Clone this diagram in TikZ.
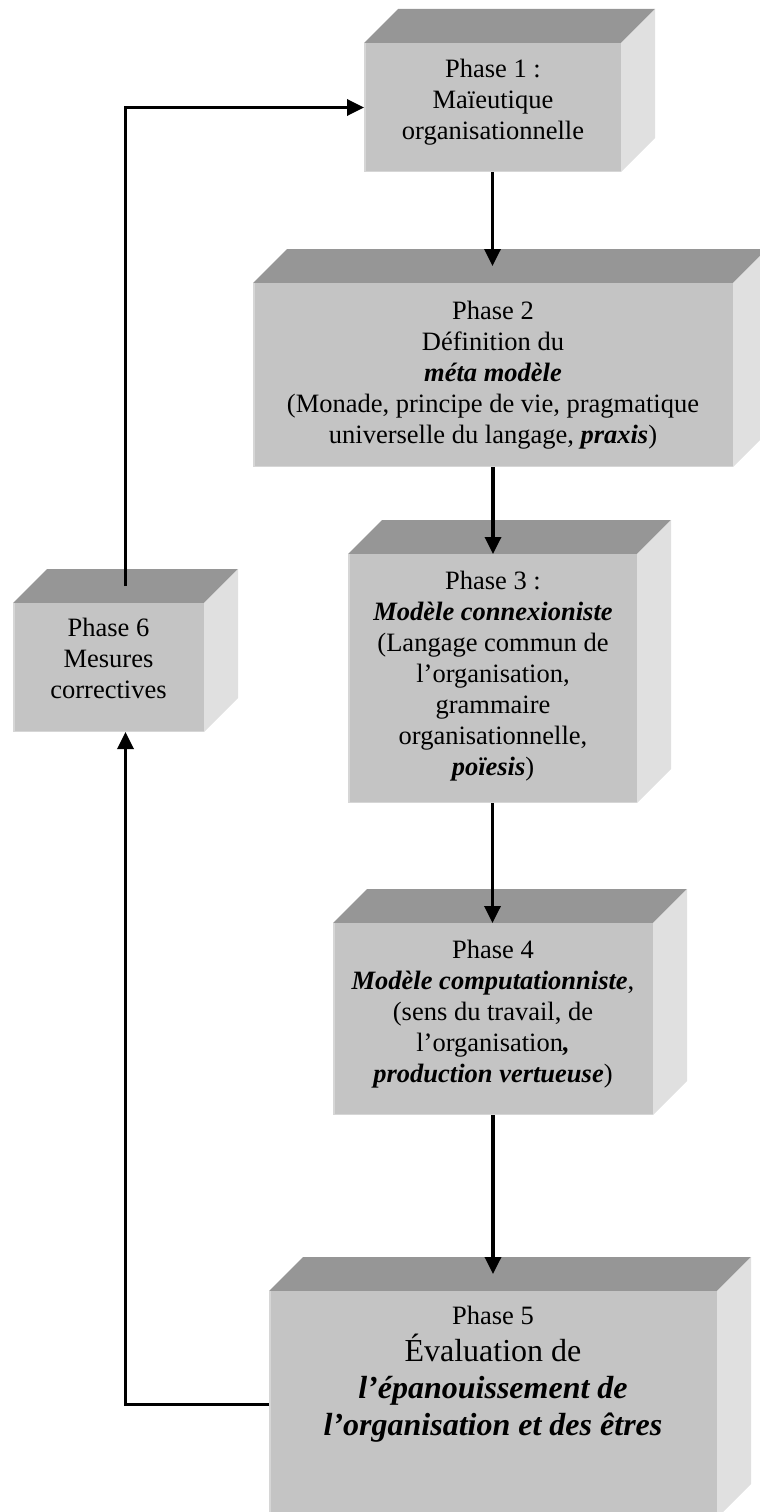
\documentclass[tikz,border=0pt]{standalone}
\usepackage{fontspec}
\setmainfont{Liberation Serif}
\usetikzlibrary{arrows.meta}

\definecolor{facetop}{RGB}{150,150,150}
\definecolor{facefront}{RGB}{196,196,196}
\definecolor{faceside}{RGB}{224,224,224}
\definecolor{faceedge}{RGB}{214,214,214}

\newcommand\bi[1]{\textbf{\textit{#1}}}

% 3D block: name, x1, y1, x2, y2 (front face corners); depth 34
\newcommand\phasebox[5]{%
  \fill[facetop] (#2,#3) -- ({#2+34},{#3-34}) -- ({#4+34},{#3-34}) -- (#4,#3) -- cycle;
  \fill[faceside] (#4,#3) -- ({#4+34},{#3-34}) -- ({#4+34},{#5-34}) -- (#4,#5) -- cycle;
  \node[frontface, minimum width={(#4-#2)*1pt}, minimum height={(#5-#3)*1pt}]
    (#1) at ({(#2+#4)/2},{(#3+#5)/2}) {};
  \draw[faceedge, line width=1.5pt] ([xshift=0.75pt]#1.north west) -- ([xshift=0.75pt,yshift=0.75pt]#1.south west) -- ([yshift=0.75pt]#1.south east);
  \coordinate (#1-top) at ({(#2+#4)/2+17},{#3-17});
}

% text blocks are placed by the baseline of their last line
\tikzset{
  frontface/.style={fill=facefront, draw=none, inner sep=0pt, outer sep=0pt},
  lbl/.style={align=center, anchor=base, inner sep=0pt, font=\fontsize{26.5}{31}\selectfont},
  biglbl/.style={align=center, anchor=base, inner sep=0pt, font=\fontsize{32}{37}\selectfont},
  flow/.style={line width=3.4pt, -{Triangle[length=17pt,width=16pt]}},
}

\begin{document}
\begin{tikzpicture}[x=1pt,y=-1pt]
\useasboundingbox (0,0) rectangle (760,1512);

\phasebox{b1}{364}{43}{621}{172}
\phasebox{b2}{253}{283}{733}{467}
\phasebox{b3}{348}{554}{637}{803}
\phasebox{b4}{333}{923}{653}{1115}
\phasebox{b5}{269}{1291}{717}{1518}
\phasebox{b6}{13}{603}{204}{732}

\draw[flow] (b1.south) -- (b1.south |- b2-top);
\draw[flow] (b2.south) -- (b2.south |- b3.north);
\draw[flow] (b3.south) -- (b3.south |- b4.north);
\draw[flow] (b4.south) -- (b4.south |- b5-top);
\draw[flow] (b5.west) -| (b6-top |- b6.south);
\draw[flow] (b6-top) |- (b1.west);

\node[lbl] (t1) at (493,139) {Phase 1 :\\Maïeutique\\organisationnelle};
\node[lbl] (t2) at (493,443) {Phase 2\\Définition du\\\bi{méta modèle}\\(Monade, principe de vie, pragmatique\\universelle du langage, \bi{praxis})};
\node[lbl] (t3) at (493,775) {Phase 3 :\\\bi{Modèle connexioniste}\\(Langage commun de\\l’organisation,\\grammaire\\organisationnelle,\\\bi{poïesis})};
\node[lbl] (t4) at (493,1082) {Phase 4\\\bi{Modèle computationniste},\\(sens du travail, de\\l’organisation\bi{,}\\\bi{production vertueuse})};
\node[biglbl] (t5) at (493,1435) {{\fontsize{26.5}{31}\selectfont Phase 5}\\Évaluation de\\\bi{l’épanouissement de}\\\bi{l’organisation et des êtres}};
\node[lbl] (t6) at (108.5,698) {Phase 6\\Mesures\\correctives};
\end{tikzpicture}
\end{document}
